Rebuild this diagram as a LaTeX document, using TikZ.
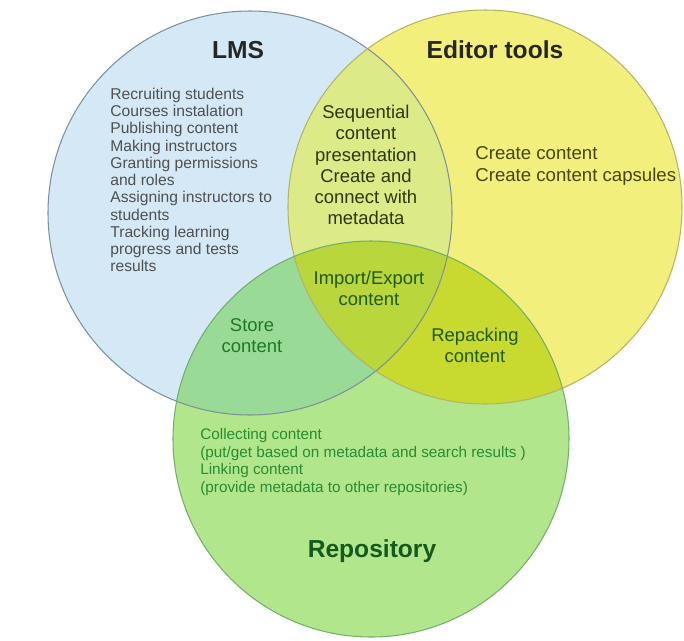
\documentclass[tikz,border=0pt]{standalone}
\usepackage{fontspec}
\setmainfont{Liberation Sans}
\definecolor{lmsfill}{RGB}{212,233,245}
\definecolor{edtfill}{RGB}{243,239,125}
\definecolor{repfill}{RGB}{178,230,140}
\definecolor{lefill}{RGB}{220,235,135}
\definecolor{lrfill}{RGB}{152,218,150}
\definecolor{erfill}{RGB}{200,218,48}
\definecolor{allfill}{RGB}{185,214,60}
\definecolor{lmsline}{RGB}{125,145,155}
\definecolor{edtline}{RGB}{180,180,100}
\definecolor{repline}{RGB}{115,175,105}
\definecolor{lmstext}{RGB}{80,80,80}
\definecolor{edttext}{RGB}{70,70,20}
\definecolor{midtext}{RGB}{45,55,15}
\definecolor{imptext}{RGB}{30,90,20}
\definecolor{stotext}{RGB}{30,120,40}
\definecolor{reptext}{RGB}{40,140,50}
\definecolor{repttl}{RGB}{20,90,30}
\tikzset{
  hdr/.style={inner sep=0pt,font=\fontsize{14}{16}\selectfont\bfseries},
  lst/.style={inner sep=0pt,align=left,anchor=west,font=\fontsize{8.9}{9.8}\selectfont},
  mid/.style={inner sep=0pt,align=center,font=\fontsize{10.5}{12}\selectfont},
  ring/.style={line width=0.6pt}
}
\begin{document}
\begin{tikzpicture}[line cap=round,line join=round,x=0.02cm,y=-0.02cm]
		\useasboundingbox (0,0) rectangle (684,640);
		\coordinate (cl) at (250,213);
		\coordinate (ce) at (485,207);
		\coordinate (cr) at (371,439);
		\fill [lmsfill] (cl) circle (202);
		\fill [edtfill] (ce) circle (197);
		\fill [repfill] (cr) circle (198);
		\begin{scope}
			\clip (cl) circle (202);
			\fill [lefill] (ce) circle (197);
			\fill [lrfill] (cr) circle (198);
			\clip (ce) circle (197);
			\fill [allfill] (cr) circle (198);
		\end{scope}
		\begin{scope}[even odd rule]
			\clip (cl) circle (202) (-10,-10) rectangle (700,700);
			\clip (ce) circle (197);
			\fill [erfill] (cr) circle (198);
		\end{scope}
		\draw [ring,lmsline] (cl) circle (202);
		\draw [ring,edtline] (ce) circle (197);
		\draw [ring,repline] (cr) circle (198);
	
		\node [hdr,color=black!85] (lms) at (238,50) {LMS};
		\node [hdr,color=black!85] (edt) at (495,50) {Editor tools};
		\node [hdr,color=repttl] (rep) at (372,551) {Repository};
		\node [lst,color=lmstext] (lmslist) at (110,180) {Recruiting students\\Courses instalation\\Publishing content\\Making instructors\\Granting permissions\\and roles\\Assigning instructors to\\students\\Tracking learning\\progress and tests\\results};
		\node [mid,align=left,anchor=west,color=edttext,font=\fontsize{10.6}{12.3}\selectfont] (edtlist) at (475,166) {Create content\\Create content capsules};
		\node [mid,color=midtext] (seq) at (366,165) {Sequential\\content\\presentation\\Create and\\connect with\\metadata};
		\node [mid,color=imptext] (imp) at (369,288) {Import/Export\\content};
		\node [mid,color=stotext] (sto) at (252,336) {Store\\content};
		\node [mid,color=imptext] (repack) at (475,345) {Repacking\\content};
		\node [lst,color=reptext,font=\fontsize{8.7}{10}\selectfont] (replist) at (200,462) {Collecting content\\(put/get based on metadata and search results )\\Linking content\\(provide metadata to other repositories)};
	\end{tikzpicture}
\end{document}
